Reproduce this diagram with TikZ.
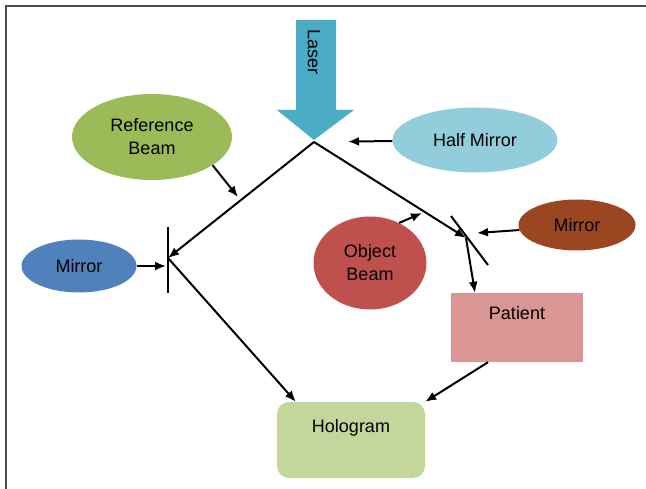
\documentclass[tikz,border=0pt]{standalone}
\usepackage{fontspec}
\setmainfont{Liberation Sans}
\usepackage{tikz}
\usetikzlibrary{shapes.geometric,arrows.meta}
\definecolor{laserblue}{HTML}{4BACC6}
\definecolor{halfblue}{HTML}{92CDDC}
\definecolor{refgreen}{HTML}{9BBB59}
\definecolor{mirrorblue}{HTML}{4F81BD}
\definecolor{objred}{HTML}{C0504D}
\definecolor{mirrorbrown}{HTML}{9A4620}
\definecolor{patientpink}{HTML}{D99694}
\definecolor{hologreen}{HTML}{C3D69B}

\begin{document}
\begin{tikzpicture}[x=1pt, y=-1pt,
    txt/.style={font=\fontsize{18}{23}\selectfont},
    blob/.style={txt, ellipse, inner sep=0pt, align=center},
    beam/.style={line width=2pt, -{Latex[length=11pt,width=9pt]}},
    mirror/.style={line width=2pt}]

    \useasboundingbox (0,0) rectangle (646,489);
    \draw[line width=1.2pt, black!70] (646,6) -- (6,6) -- (6,489);

    % Laser
    \fill[laserblue] (296,20) -- (336,20) -- (336,110) -- (354,110) -- (314,140) -- (277,110) -- (296,110) -- cycle;
    \node (laser) at (314,52) [txt, rotate=-90] {Laser};

    % Nodes
    \coordinate (split) at (314,142);
    \coordinate (leftm) at (168,258);
    \coordinate (rightm) at (466,238);
    \node (halfmirror) at (475,140) [blob, fill=halfblue, minimum width=165pt, minimum height=65pt] {Half Mirror};
    \node (refbeam) at (152,137) [blob, fill=refgreen, minimum width=160pt, minimum height=86pt] {Reference\\Beam};
    \node (mirrorleft) at (79,266) [blob, fill=mirrorblue, minimum width=115pt, minimum height=53pt] {Mirror};
    \node (objbeam) at (370,263) [blob, fill=objred, minimum width=113pt, minimum height=93pt] {Object\\Beam};
    \node (mirrorright) at (577,225) [blob, fill=mirrorbrown, minimum width=117pt, minimum height=51pt] {Mirror};
    \node (patient) at (517,327.5) [txt, fill=patientpink, inner sep=0pt, minimum width=132pt, text height=27pt, text depth=42pt] {Patient};
    \node (hologram) at (351,440) [txt, fill=hologreen, rounded corners=12pt, inner sep=0pt, minimum width=148pt, text height=30pt, text depth=46pt] {Hologram};

    % Mirrors
    \draw[mirror] (168,227) -- (168,293);
    \draw[mirror] (451,216) -- (488,265);

    % Arrows
    \coordinate (refhit) at (238,197);
    \coordinate (objhit) at (422,213);
    \coordinate (rmhit) at (477,233);
    \coordinate (lmhit) at (166,266);
    \foreach \i/\j in {split/leftm, split/rightm, refbeam.-25/refhit, objbeam.54/objhit, mirrorright.185/rmhit, mirrorleft.east/lmhit} {
        \draw[beam] (\i) -- (\j);
    }
    \draw[beam, shorten >=34pt] (halfmirror) -- (split);
    \draw[beam] (leftm) -- ([xshift=19pt]hologram.north west);
    \draw[beam] (rightm) -- ([xshift=-42pt]patient.north);
    \draw[beam] ([xshift=-29pt]patient.south) -- (hologram.north east);

\end{tikzpicture}
\end{document}
